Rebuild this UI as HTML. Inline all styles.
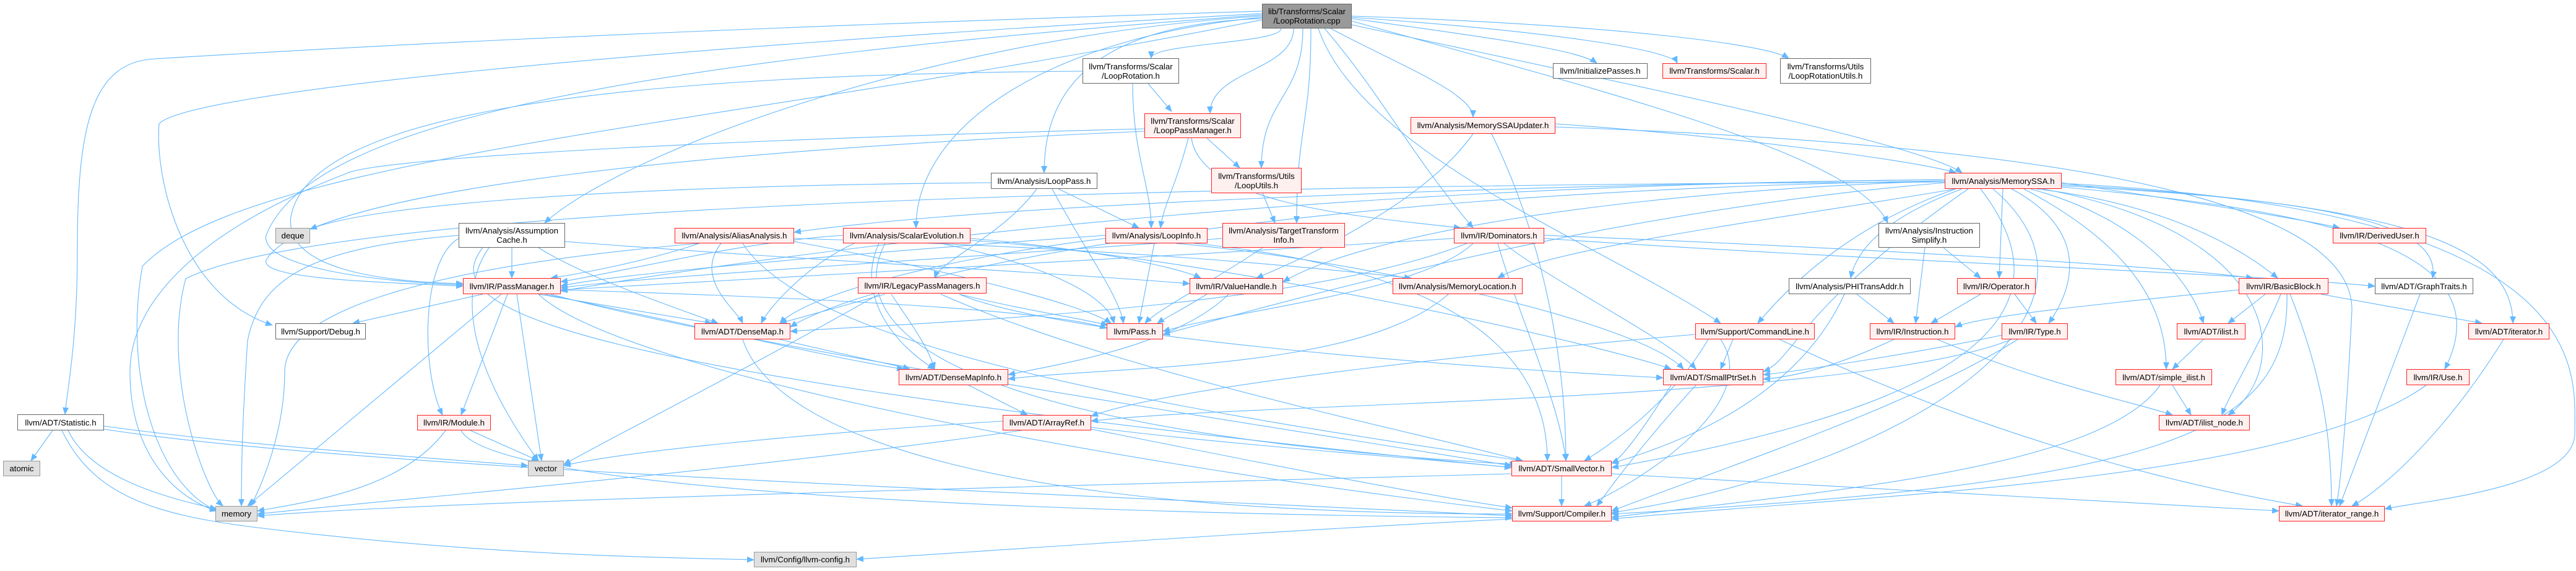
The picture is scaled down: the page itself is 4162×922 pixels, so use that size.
<!DOCTYPE html>
<html><head><meta charset="utf-8"><style>
html,body{margin:0;padding:0;background:#fff;}
#c{position:relative;width:4162px;height:922px;overflow:hidden;background:#fff;}
svg{position:absolute;left:0;top:0;}
.n{position:absolute;box-sizing:border-box;display:flex;align-items:center;justify-content:center;text-align:center;font-family:"Liberation Sans",Arial,sans-serif;font-size:13.3px;line-height:15px;color:#000;white-space:nowrap;}
.r{border:1px solid #ff2020;background:#fff0f0;}
.w{border:1px solid #666;background:#fff;}
.g{border:1px solid #999;background:#e0e0e0;}
.t{border:1px solid #666;background:#999;}
</style></head><body><div id="c">
<svg width="4162" height="922" viewBox="0 0 4162 922">
<defs><marker id="a" markerWidth="12" markerHeight="10" refX="11" refY="5" orient="auto" markerUnits="userSpaceOnUse"><path d="M0,0 L12,5 L0,10 z" fill="#63b8ff"/></marker></defs>
<g fill="none" stroke="#63b8ff" stroke-width="1.1" marker-end="url(#a)">
<path d="M2070,46C2070,70 1860,70 1860,94"/>
<path d="M2090,46C2090,114 1955,114 1955,183"/>
<path d="M2105,46C2105,158 2038,158 2038,271"/>
<path d="M2118,46C2118,203 2095,203 2095,360"/>
<path d="M2039,30C1760,40 1687,150 1687,279"/>
<path d="M2039,28C1700,60 1480,200 1480,368"/>
<path d="M2039,26C1500,60 1000,250 880,360"/>
<path d="M2039,18C1000,50 500,80 250,95C150,100 125,200 125,400C125,550 110,620 105,669"/>
<path d="M2039,22C1000,80 300,150 257,200C250,300 300,480 440,525"/>
<path d="M2039,24C1000,100 500,200 430,380C420,430 600,455 748,460"/>
<path d="M2039,32C1200,200 400,250 230,430C200,600 250,780 350,825"/>
<path d="M2184,30C2400,60 2550,80 2580,102"/>
<path d="M2184,28C2500,50 2700,80 2710,102"/>
<path d="M2184,26C2600,40 2850,70 2890,94"/>
<path d="M2150,46C2250,100 2380,150 2380,189"/>
<path d="M2184,40C2600,130 3100,230 3170,279"/>
<path d="M2184,34C2600,150 3000,250 3050,360"/>
<path d="M2130,46C2200,250 2600,400 2780,522"/>
<path d="M2140,46C2230,150 2280,250 2380,368"/>
<path d="M1855,135L1893,180"/>
<path d="M1830,135C1830,250 1860,300 1860,368"/>
<path d="M1749,115C1000,120 500,180 470,350C460,430 600,455 748,458"/>
<path d="M1950,223L2003,271"/>
<path d="M1920,223C1900,300 1880,330 1875,368"/>
<path d="M1925,223C1940,330 2200,350 2360,368"/>
<path d="M1849,208C1000,230 600,260 560,280C300,380 210,500 210,600C210,750 300,810 350,825"/>
<path d="M1849,212C1200,240 500,300 430,420C420,450 600,455 748,462"/>
<path d="M2040,312L2060,360"/>
<path d="M1710,305L1840,368"/>
<path d="M1700,305C1750,400 1810,480 1815,522"/>
<path d="M1675,305C1620,380 1520,420 1510,449"/>
<path d="M1601,295C1000,300 600,330 501,370"/>
<path d="M1362,380C1200,390 1000,440 906,455"/>
<path d="M1520,393C1700,430 1790,480 1800,522"/>
<path d="M1380,393C1300,430 1240,500 1230,522"/>
<path d="M1568,385C1750,400 1900,430 1940,449"/>
<path d="M1568,388C2000,420 2600,560 2700,596"/>
<path d="M1430,393C1350,550 1600,700 2450,750"/>
<path d="M1420,393C1380,480 1450,560 1510,596"/>
<path d="M1865,393L1840,522"/>
<path d="M1786,380C1500,400 1000,440 906,462"/>
<path d="M1900,393C2200,420 2650,520 2720,596"/>
<path d="M1930,393C2200,420 2500,500 2500,744"/>
<path d="M1786,385C1500,420 1300,480 1260,522"/>
<path d="M1975,385C1500,420 1000,450 906,465"/>
<path d="M2040,400C1950,460 1870,500 1850,522"/>
<path d="M2349,385C1800,420 1100,455 906,468"/>
<path d="M2380,393C2300,470 2000,500 1879,535"/>
<path d="M2370,393C2100,500 1500,520 1277,535"/>
<path d="M2430,393C2500,450 2700,550 2740,596"/>
<path d="M2420,393C2450,500 2520,650 2530,744"/>
<path d="M2495,385C3000,420 3600,440 3837,462"/>
<path d="M2495,380C3000,400 3500,430 3640,449"/>
<path d="M827,400L827,449"/>
<path d="M870,400C950,450 1100,500 1160,522"/>
<path d="M780,400C700,500 900,600 2442,755"/>
<path d="M790,400C720,500 800,650 870,744"/>
<path d="M741,380C500,400 420,450 400,550C390,700 390,780 390,817"/>
<path d="M913,390C1300,420 1700,440 1922,458"/>
<path d="M741,385C680,420 680,600 715,670"/>
<path d="M1130,393C1050,420 950,440 890,449"/>
<path d="M1165,393C1120,450 1190,500 1200,522"/>
<path d="M1283,385C1800,400 2100,430 2280,449"/>
<path d="M1283,390C1500,430 1750,490 1795,522"/>
<path d="M1200,393C1300,550 1800,650 2460,744"/>
<path d="M1130,393C700,430 460,500 460,600C460,700 420,790 405,817"/>
<path d="M780,475L570,522"/>
<path d="M870,475L1150,522"/>
<path d="M820,475L745,670"/>
<path d="M835,475L875,744"/>
<path d="M810,475L400,817"/>
<path d="M906,468C1300,480 1700,500 1788,530"/>
<path d="M890,475C1200,560 2000,680 2442,752"/>
<path d="M880,475C1100,520 1350,580 1460,596"/>
<path d="M870,475C1000,600 1800,750 2443,825"/>
<path d="M1430,475L1260,522"/>
<path d="M1550,475C1650,500 1750,515 1790,525"/>
<path d="M1440,475C1470,520 1500,560 1510,596"/>
<path d="M1420,475C1200,600 1000,700 911,750"/>
<path d="M1520,475C1800,600 2300,700 2460,744"/>
<path d="M1550,475C1700,540 2300,590 2687,610"/>
<path d="M1985,475C1900,560 1700,590 1629,605"/>
<path d="M1950,475C1910,500 1880,515 1870,522"/>
<path d="M2340,475C2200,600 1800,590 1629,612"/>
<path d="M1260,548C1350,570 1450,590 1470,596"/>
<path d="M1200,548C1250,700 1600,830 2443,830"/>
<path d="M1565,622L1660,670"/>
<path d="M2800,548L2780,596"/>
<path d="M2760,548C2700,650 2600,720 2560,744"/>
<path d="M2780,548C2850,650 2650,780 2560,817"/>
<path d="M2875,548C3200,700 3500,780 3720,817"/>
<path d="M2739,540C2500,560 1900,620 1763,672"/>
<path d="M3060,548C2950,600 2880,610 2849,612"/>
<path d="M3130,548C3300,620 3450,650 3510,670"/>
<path d="M3200,475L3120,522"/>
<path d="M3255,475L3290,522"/>
<path d="M3240,540C3100,570 2900,600 2849,605"/>
<path d="M3260,548C3100,650 2800,750 2604,825"/>
<path d="M3250,548C3000,650 2000,650 1763,680"/>
<path d="M3617,468C3400,490 3200,510 3159,528"/>
<path d="M3660,475L3600,522"/>
<path d="M3685,475C3650,560 3600,640 3590,670"/>
<path d="M3750,475L4010,522"/>
<path d="M3700,475C3750,600 3767,700 3767,817"/>
<path d="M3695,475C3700,700 3500,780 2604,830"/>
<path d="M3560,548L3510,596"/>
<path d="M3510,622L3540,670"/>
<path d="M3490,622C3400,750 3000,790 2604,835"/>
<path d="M3920,622C3700,780 3000,800 2604,838"/>
<path d="M4045,548C3950,700 3850,790 3800,817"/>
<path d="M3910,475L3780,817"/>
<path d="M3000,475L3060,522"/>
<path d="M2980,475C2900,650 2700,720 2604,748"/>
<path d="M3140,400L3200,449"/>
<path d="M3110,400L3095,522"/>
<path d="M3331,295C3500,320 3700,350 3780,368"/>
<path d="M3290,305C3500,330 3620,400 3680,449"/>
<path d="M3331,300C3700,320 3950,350 3930,449"/>
<path d="M3331,298C3900,330 4060,400 4060,522"/>
<path d="M3280,305C3450,350 3540,450 3560,522"/>
<path d="M3270,305C3450,400 3500,500 3500,596"/>
<path d="M3300,305C3700,380 3700,600 3600,670"/>
<path d="M3331,302C3750,340 4050,400 3950,596"/>
<path d="M3236,305L3230,449"/>
<path d="M3250,305C3390,380 3340,480 3310,522"/>
<path d="M3160,305C3000,360 2900,450 2840,522"/>
<path d="M3170,305C3050,350 3000,400 2990,449"/>
<path d="M3331,296C4200,340 4160,600 4160,700C4160,790 3900,810 3853,822"/>
<path d="M3200,305C3350,500 3200,650 2604,755"/>
<path d="M3220,305C3450,500 3100,750 2604,828"/>
<path d="M3142,292C2600,310 2200,380 2073,455"/>
<path d="M3142,295C2600,340 2100,480 1879,540"/>
<path d="M3142,290C2000,300 1200,420 906,470"/>
<path d="M3142,292C2000,310 1400,450 1277,528"/>
<path d="M3142,294C1500,300 500,350 300,450C260,600 330,790 360,817"/>
<path d="M3142,290C2400,300 1600,330 1283,375"/>
<path d="M3160,305C2900,350 2500,400 2420,449"/>
<path d="M3180,305C2900,500 2900,580 2849,600"/>
<path d="M2513,200C2800,220 3100,260 3160,279"/>
<path d="M2380,216C2300,330 2100,420 2030,449"/>
<path d="M2410,216C2500,400 2530,600 2530,744"/>
<path d="M2513,205C3200,230 3800,300 3800,500C3790,700 3780,790 3775,817"/>
<path d="M85,695L50,744"/>
<path d="M110,695C150,780 300,810 350,822"/>
<path d="M168,688C400,720 700,740 853,752"/>
<path d="M100,695C150,800 250,830 400,850C800,900 1100,900 1218,904"/>
<path d="M168,693C600,760 1800,800 2443,833"/>
<path d="M760,695L870,744"/>
<path d="M720,695C650,790 500,810 416,825"/>
<path d="M745,695C800,800 1800,830 2443,836"/>
<path d="M2740,622C2650,720 2600,790 2580,817"/>
<path d="M2700,622C2650,700 2620,740 2604,748"/>
<path d="M2523,769L2523,817"/>
<path d="M2604,765C3000,790 3400,810 3682,825"/>
<path d="M2442,765C1500,790 700,810 416,833"/>
<path d="M1763,690C2000,720 2300,740 2442,755"/>
<path d="M1763,693C2000,740 2300,800 2443,820"/>
<path d="M1620,680C1300,700 1000,730 911,752"/>
<path d="M1650,695C1200,760 700,800 416,830"/>
<path d="M2443,838C2000,860 1600,890 1384,903"/>
</g></svg>
<div class="n t" style="left:2039px;top:6px;width:145px;height:40px">lib/Transforms/Scalar<br>/LoopRotation.cpp</div>
<div class="n w" style="left:1749px;top:94px;width:156px;height:41px">llvm/Transforms/Scalar<br>/LoopRotation.h</div>
<div class="n r" style="left:1849px;top:183px;width:156px;height:40px">llvm/Transforms/Scalar<br>/LoopPassManager.h</div>
<div class="n r" style="left:1957px;top:271px;width:146px;height:41px">llvm/Transforms/Utils<br>/LoopUtils.h</div>
<div class="n w" style="left:1601px;top:279px;width:172px;height:26px">llvm/Analysis/LoopPass.h</div>
<div class="n r" style="left:1362px;top:368px;width:206px;height:25px">llvm/Analysis/ScalarEvolution.h</div>
<div class="n r" style="left:1786px;top:368px;width:165px;height:25px">llvm/Analysis/LoopInfo.h</div>
<div class="n r" style="left:1975px;top:360px;width:198px;height:40px">llvm/Analysis/TargetTransform<br>Info.h</div>
<div class="n r" style="left:2349px;top:368px;width:146px;height:25px">llvm/IR/Dominators.h</div>
<div class="n w" style="left:741px;top:360px;width:172px;height:40px">llvm/Analysis/Assumption<br>Cache.h</div>
<div class="n r" style="left:1090px;top:368px;width:193px;height:25px">llvm/Analysis/AliasAnalysis.h</div>
<div class="n r" style="left:748px;top:449px;width:158px;height:26px">llvm/IR/PassManager.h</div>
<div class="n r" style="left:1386px;top:448px;width:208px;height:26px">llvm/IR/LegacyPassManagers.h</div>
<div class="n r" style="left:1922px;top:449px;width:151px;height:26px">llvm/IR/ValueHandle.h</div>
<div class="n r" style="left:2250px;top:449px;width:210px;height:26px">llvm/Analysis/MemoryLocation.h</div>
<div class="n w" style="left:2890px;top:449px;width:197px;height:26px">llvm/Analysis/PHITransAddr.h</div>
<div class="n r" style="left:3162px;top:449px;width:127px;height:26px">llvm/IR/Operator.h</div>
<div class="n r" style="left:3617px;top:449px;width:145px;height:26px">llvm/IR/BasicBlock.h</div>
<div class="n w" style="left:3837px;top:449px;width:159px;height:26px">llvm/ADT/GraphTraits.h</div>
<div class="n w" style="left:445px;top:522px;width:146px;height:26px">llvm/Support/Debug.h</div>
<div class="n r" style="left:1122px;top:522px;width:155px;height:26px">llvm/ADT/DenseMap.h</div>
<div class="n r" style="left:1788px;top:522px;width:91px;height:26px">llvm/Pass.h</div>
<div class="n r" style="left:2739px;top:522px;width:193px;height:26px">llvm/Support/CommandLine.h</div>
<div class="n r" style="left:3021px;top:522px;width:138px;height:26px">llvm/IR/Instruction.h</div>
<div class="n r" style="left:3234px;top:522px;width:107px;height:26px">llvm/IR/Type.h</div>
<div class="n r" style="left:3517px;top:522px;width:111px;height:26px">llvm/ADT/ilist.h</div>
<div class="n r" style="left:3988px;top:522px;width:131px;height:26px">llvm/ADT/iterator.h</div>
<div class="n r" style="left:1452px;top:596px;width:177px;height:26px">llvm/ADT/DenseMapInfo.h</div>
<div class="n r" style="left:2687px;top:596px;width:162px;height:26px">llvm/ADT/SmallPtrSet.h</div>
<div class="n r" style="left:3418px;top:596px;width:156px;height:26px">llvm/ADT/simple_ilist.h</div>
<div class="n r" style="left:3888px;top:596px;width:102px;height:26px">llvm/IR/Use.h</div>
<div class="n w" style="left:28px;top:669px;width:140px;height:26px">llvm/ADT/Statistic.h</div>
<div class="n r" style="left:674px;top:670px;width:119px;height:25px">llvm/IR/Module.h</div>
<div class="n r" style="left:1620px;top:670px;width:143px;height:25px">llvm/ADT/ArrayRef.h</div>
<div class="n r" style="left:3488px;top:670px;width:147px;height:25px">llvm/ADT/ilist_node.h</div>
<div class="n g" style="left:5px;top:744px;width:60px;height:25px">atomic</div>
<div class="n g" style="left:853px;top:744px;width:58px;height:25px">vector</div>
<div class="n r" style="left:2442px;top:744px;width:162px;height:25px">llvm/ADT/SmallVector.h</div>
<div class="n g" style="left:348px;top:817px;width:68px;height:25px">memory</div>
<div class="n r" style="left:2443px;top:817px;width:161px;height:25px">llvm/Support/Compiler.h</div>
<div class="n r" style="left:3682px;top:817px;width:171px;height:25px">llvm/ADT/iterator_range.h</div>
<div class="n g" style="left:1218px;top:891px;width:166px;height:25px">llvm/Config/llvm-config.h</div>
<div class="n g" style="left:445px;top:368px;width:56px;height:25px">deque</div>
<div class="n w" style="left:2509px;top:102px;width:153px;height:25px">llvm/InitializePasses.h</div>
<div class="n r" style="left:2686px;top:102px;width:168px;height:25px">llvm/Transforms/Scalar.h</div>
<div class="n w" style="left:2876px;top:94px;width:147px;height:41px">llvm/Transforms/Utils<br>/LoopRotationUtils.h</div>
<div class="n r" style="left:2279px;top:189px;width:234px;height:27px">llvm/Analysis/MemorySSAUpdater.h</div>
<div class="n r" style="left:3142px;top:279px;width:189px;height:26px">llvm/Analysis/MemorySSA.h</div>
<div class="n w" style="left:3035px;top:360px;width:164px;height:40px">llvm/Analysis/Instruction<br>Simplify.h</div>
<div class="n r" style="left:3769px;top:368px;width:151px;height:25px">llvm/IR/DerivedUser.h</div>
</div></body></html>
